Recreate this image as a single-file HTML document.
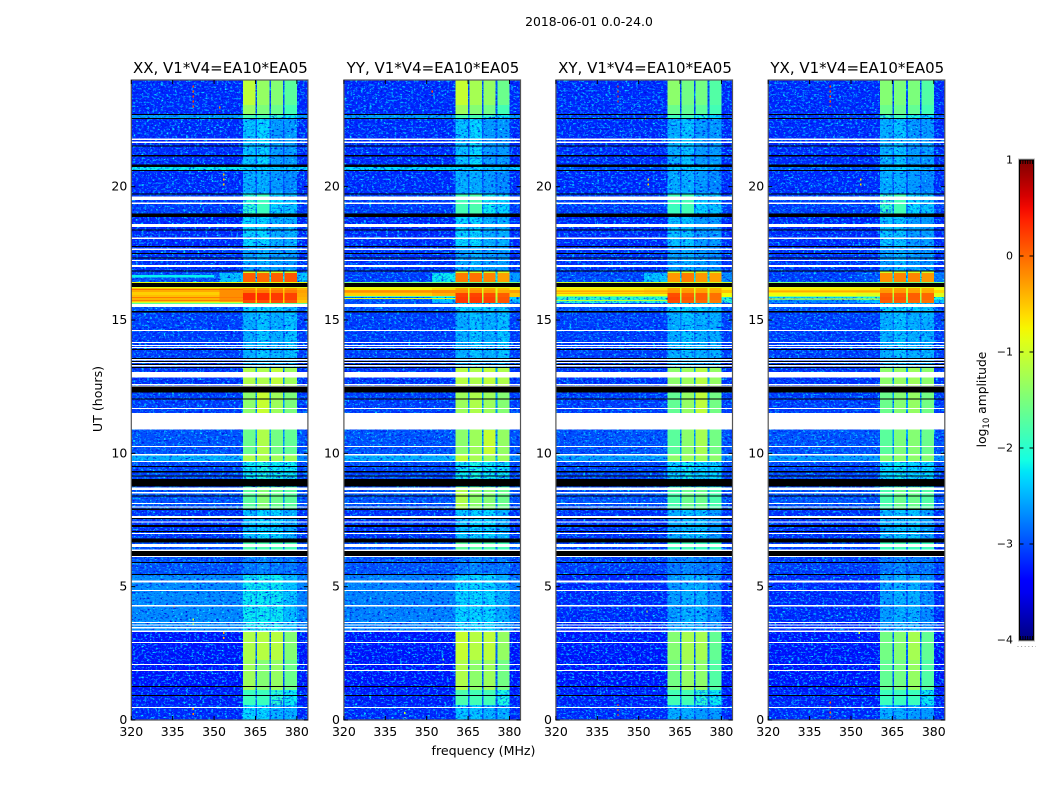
<!DOCTYPE html>
<html lang="en">
<head>
<meta charset="utf-8">
<title>2018-06-01 0.0-24.0 amplitude spectrogram</title>
<style>
html,body{margin:0;padding:0;background:#fff;}
svg{display:block;font-family:"DejaVu Sans","Liberation Sans",sans-serif;fill:#000;}
.tick-label{font-size:12.5px;}
.panel-title{font-size:15px;text-anchor:middle;}
</style>
</head>
<body>
<svg id="figure" width="1050" height="800" viewBox="0 0 1050 800" xmlns="http://www.w3.org/2000/svg">
  <defs>
    <linearGradient id="cbar-gradient" x1="0" y1="1" x2="0" y2="0"></linearGradient>
    <filter id="grain-1" x="0" y="0" width="100%" height="100%" color-interpolation-filters="sRGB">
      <feTurbulence type="fractalNoise" baseFrequency="0.36 0.52" numOctaves="2" seed="3" result="n"/>
      <feColorMatrix in="n" type="matrix" values="0 0 0 0 0  0 0 0 0 .6  0 0 0 0 1  5.5 0 0 0 -3" result="a"/>
      <feColorMatrix in="n" type="matrix" values="0 0 0 0 0  0 0 0 0 .05  0 0 0 0 .88  0 4 0 0 -2.15" result="b"/>
      <feColorMatrix in="n" type="matrix" values="0 0 0 0 .05  0 0 0 0 .95  0 0 0 0 1  0 0 5.5 0 -3.5" result="c"/>
      <feMerge><feMergeNode in="b"/><feMergeNode in="a"/><feMergeNode in="c"/></feMerge>
    </filter>
    <filter id="grain-2" x="0" y="0" width="100%" height="100%" color-interpolation-filters="sRGB">
      <feTurbulence type="fractalNoise" baseFrequency="0.36 0.52" numOctaves="2" seed="11" result="n"/>
      <feColorMatrix in="n" type="matrix" values="0 0 0 0 0  0 0 0 0 .6  0 0 0 0 1  5.5 0 0 0 -3" result="a"/>
      <feColorMatrix in="n" type="matrix" values="0 0 0 0 0  0 0 0 0 .05  0 0 0 0 .88  0 4 0 0 -2.15" result="b"/>
      <feColorMatrix in="n" type="matrix" values="0 0 0 0 .05  0 0 0 0 .95  0 0 0 0 1  0 0 5.5 0 -3.5" result="c"/>
      <feMerge><feMergeNode in="b"/><feMergeNode in="a"/><feMergeNode in="c"/></feMerge>
    </filter>
    <filter id="grain-3" x="0" y="0" width="100%" height="100%" color-interpolation-filters="sRGB">
      <feTurbulence type="fractalNoise" baseFrequency="0.36 0.52" numOctaves="2" seed="23" result="n"/>
      <feColorMatrix in="n" type="matrix" values="0 0 0 0 0  0 0 0 0 .6  0 0 0 0 1  5.5 0 0 0 -3" result="a"/>
      <feColorMatrix in="n" type="matrix" values="0 0 0 0 0  0 0 0 0 .05  0 0 0 0 .88  0 4 0 0 -2.15" result="b"/>
      <feColorMatrix in="n" type="matrix" values="0 0 0 0 .05  0 0 0 0 .95  0 0 0 0 1  0 0 5.5 0 -3.5" result="c"/>
      <feMerge><feMergeNode in="b"/><feMergeNode in="a"/><feMergeNode in="c"/></feMerge>
    </filter>
    <filter id="grain-4" x="0" y="0" width="100%" height="100%" color-interpolation-filters="sRGB">
      <feTurbulence type="fractalNoise" baseFrequency="0.36 0.52" numOctaves="2" seed="37" result="n"/>
      <feColorMatrix in="n" type="matrix" values="0 0 0 0 0  0 0 0 0 .6  0 0 0 0 1  5.5 0 0 0 -3" result="a"/>
      <feColorMatrix in="n" type="matrix" values="0 0 0 0 0  0 0 0 0 .05  0 0 0 0 .88  0 4 0 0 -2.15" result="b"/>
      <feColorMatrix in="n" type="matrix" values="0 0 0 0 .05  0 0 0 0 .95  0 0 0 0 1  0 0 5.5 0 -3.5" result="c"/>
      <feMerge><feMergeNode in="b"/><feMergeNode in="a"/><feMergeNode in="c"/></feMerge>
    </filter>
  </defs>
  <rect x="0" y="0" width="1050" height="800" fill="#fff"/>
  <text x="589" y="26" font-size="12.4px" text-anchor="middle">2018-06-01 0.0-24.0</text>
  <text x="483.5" y="755" font-size="12.6px" text-anchor="middle">frequency (MHz)</text>
  <text transform="translate(102,399) rotate(-90)" font-size="12.6px" text-anchor="middle">UT (hours)</text>
  <text transform="translate(986,399.5) rotate(-90)" font-size="12.3px" text-anchor="middle">log<tspan font-size="8.5px" dy="3">10</tspan><tspan dy="-3"> amplitude</tspan></text>
  <g id="panels"></g>
  <g id="colorbar"></g>
</svg>
<script>
// ---------- data (log10 amplitude, hours, MHz) ----------
const panelNames = ["XX", "YY", "XY", "YX"];
const baselineLabel = ", V1*V4=EA10*EA05";
const xTickValues = [320, 335, 350, 365, 380];
const yTickValues = [0, 5, 10, 15, 20];
const colorbarTickValues = [-4, -3, -2, -1, 0, 1];

// frequency segment edges (MHz) and which column of a level row each segment reads
const freqEdges = [320, 352, 360.5, 365, 365.6, 370, 370.6, 375, 375.6, 380, 384];
const segmentColumn = [0, 1, 2, 6, 3, 6, 4, 6, 5, 7];

// time regime edges (hours)
const hourEdges = [0,.56,1.13,2.25,3.3,5.48,6.15,6.75,7.88,8.74,9.68,9.94,10.88,11.51,12.53,13.2,15.34,15.64,15.75,15.86,16.01,16.13,16.24,16.43,16.76,16.84,17.78,18.9,19.73,20.63,20.74,22.58,22.73,23.06,24];

// one row per time regime: [left bg, near-band bg, sub1, sub2, sub3, sub4, gaps, right bg]
const levelsXX = [
[-3.2,-3.2,-2.3,-2.3,-2.5,-2.5,-3,-3.2],
[-3.25,-3.25,-1.9,-1.9,-2,-2.2,-2.9,-3.25],
[-3.3,-3.3,-1.3,-1.45,-1.35,-1.6,-3,-3.3],
[-3.3,-3.3,-1.2,-1.15,-1.15,-1.45,-2.9,-3.3],
[-2.7,-2.7,-2.2,-2.2,-2.2,-2.4,-2.5,-2.75],
[-3,-3,-2.8,-2.7,-2.8,-2.8,-3,-3],
[-3,-3,-1.8,-1.8,-1.85,-1.85,-2.7,-3],
[-3.15,-3.15,-2.4,-2.3,-2.3,-2.5,-2.8,-3.15],
[-3,-3,-1.7,-1.45,-1.6,-1.7,-2.6,-3],
[-3.05,-3.05,-2.2,-2.1,-2.2,-2.2,-2.7,-3.05],
[-2.5,-2.5,-1.2,-1.2,-1.3,-1.3,-2.4,-2.7],
[-3,-3,-1.6,-1.2,-1.55,-1.65,-2.6,-3],
[-3,-3,-1.6,-1.2,-1.5,-1.6,-2.6,-3],
[-3.1,-3.1,-1.4,-1.05,-1.3,-1.5,-2.6,-3.1],
[-3.15,-3.15,-1.2,-1.2,-1.1,-1.3,-2.6,-3.15],
[-3.1,-3.1,-2.5,-2.4,-2.5,-2.4,-2.8,-3.1],
[-3,-3,-2.3,-2.3,-2.3,-2.4,-2.6,-3],
[-.5,-.3,.15,.15,.15,.1,-.6,-.5],
[-.4,-.2,.3,.3,.25,.2,-.5,-.4],
[-.45,-.2,.3,.3,.25,.2,-.5,-.35],
[-.35,-.2,-.1,-.1,-.1,-.1,-.5,-.3],
[-.45,-.3,-.2,-.2,-.2,-.2,-.6,-.4],
[-.5,-.5,-.3,-.3,-.3,-.3,-.9,-.5],
[-3,-2.4,.05,0,.05,.1,-2.2,-2.4],
[-3.1,-3,-1,-1,-1,-1,-2.6,-3],
[-3.15,-3.15,-2.6,-2.5,-2.6,-2.6,-2.9,-3.15],
[-3.2,-3.2,-2.3,-2.3,-2.5,-2.5,-2.9,-3.2],
[-3.1,-3.1,-2,-1.9,-2.3,-2.4,-2.7,-3.1],
[-3.2,-3.2,-2.5,-2.5,-2.6,-2.7,-3,-3.2],
[-2.2,-2.2,-2.3,-2.3,-2.4,-2.4,-2.4,-2.3],
[-3.2,-3.2,-2.4,-2.3,-2.6,-2.6,-3,-3.2],
[-2.6,-2.6,-1.85,-1.85,-2,-2.2,-2.6,-2.6],
[-3.2,-3.2,-1.35,-1.5,-1.6,-1.85,-3,-3.2],
[-3.2,-3.2,-1.1,-1.35,-1.45,-1.7,-3,-3.2]
];
const levelsYY = [
[-3.2,-3.2,-2.4,-2.4,-2.5,-2.5,-3,-3.2],
[-3.25,-3.25,-1.8,-1.85,-1.85,-2.1,-2.9,-3.25],
[-3.3,-3.3,-1.2,-1.4,-1.3,-1.55,-3,-3.3],
[-3.3,-3.3,-1.05,-1.15,-1.1,-1.35,-2.9,-3.3],
[-2.75,-2.75,-2.3,-2.3,-2.3,-2.5,-2.6,-2.8],
[-3,-3,-2.8,-2.7,-2.8,-2.8,-3,-3],
[-3,-3,-1.7,-1.75,-1.8,-1.85,-2.7,-3],
[-3.15,-3.15,-2.4,-2.3,-2.3,-2.5,-2.8,-3.15],
[-3,-3,-1.2,-1.4,-1.45,-1.6,-2.6,-3],
[-3.05,-3.05,-2.2,-2.1,-2.2,-2.2,-2.7,-3.05],
[-2.5,-2.5,-1.1,-1.25,-1.3,-1.3,-2.4,-2.7],
[-3,-3,-1.4,-1.3,-1.05,-1.35,-2.6,-3],
[-3,-3,-1.6,-1.35,-1.4,-1.6,-2.6,-3],
[-3.1,-3.1,-1.3,-1.2,-1.3,-1.45,-2.6,-3.1],
[-3.15,-3.15,-1.15,-1.2,-1.1,-1.2,-2.6,-3.15],
[-3.1,-3.1,-2.5,-2.4,-2.5,-2.4,-2.8,-3.1],
[-3,-3,-2.3,-2.3,-2.3,-2.4,-2.6,-3],
[-3,-2.4,.25,.25,.2,.1,-1.4,-2.4],
[-2.9,-2.3,.25,.25,.2,.1,-1.2,-2.3],
[-.55,-.4,.2,.2,.15,.05,-1,-.5],
[-.3,-.2,-.2,-.2,-.25,-.35,-.9,-.3],
[-.75,-.6,-.3,-.3,-.35,-.45,-.9,-.7],
[-.8,-.6,-.3,-.3,-.35,-.45,-.9,-.7],
[-3.1,-2.2,-.1,-.05,-.15,-.3,-2.2,-2.6],
[-3.1,-3,-1,-1,-1,-1,-2.6,-3],
[-3.15,-3.15,-2.6,-2.5,-2.6,-2.6,-2.9,-3.15],
[-3.2,-3.2,-2.3,-2.3,-2.5,-2.5,-2.9,-3.2],
[-3.1,-3.1,-1.85,-1.8,-2.2,-2.3,-2.7,-3.1],
[-3.2,-3.2,-2.5,-2.5,-2.6,-2.7,-3,-3.2],
[-2.3,-2.3,-2.3,-2.3,-2.4,-2.4,-2.4,-2.3],
[-3.2,-3.2,-2.4,-2.3,-2.6,-2.6,-3,-3.2],
[-2.6,-2.6,-1.85,-1.85,-2,-2.2,-2.6,-2.6],
[-3.2,-3.2,-1.3,-1.45,-1.55,-1.85,-3,-3.2],
[-3.2,-3.2,-1.05,-1.25,-1.35,-1.6,-3,-3.2]
];
const levelsXY = [
[-3.2,-3.2,-2.5,-2.5,-2.6,-2.6,-3,-3.2],
[-3.25,-3.25,-1.85,-1.85,-2,-2.2,-2.9,-3.25],
[-3.3,-3.3,-1.55,-1.35,-1.4,-1.75,-3,-3.3],
[-3.3,-3.3,-1.45,-1.25,-1.25,-1.65,-2.9,-3.3],
[-3.2,-3.2,-2.6,-2.5,-2.5,-2.7,-2.9,-3.2],
[-3.1,-3.1,-2.8,-2.7,-2.8,-2.8,-3,-3.1],
[-3.1,-3.1,-1.9,-1.85,-1.9,-1.9,-2.7,-3.1],
[-3.15,-3.15,-2.5,-2.4,-2.4,-2.6,-2.8,-3.15],
[-3,-3,-1.8,-1.6,-1.6,-1.8,-2.6,-3],
[-3.05,-3.05,-2.3,-2.2,-2.3,-2.3,-2.7,-3.05],
[-2.6,-2.6,-1.4,-1.3,-1.3,-1.4,-2.5,-2.7],
[-3,-3,-1.7,-1.4,-1.25,-1.55,-2.6,-3],
[-3,-3,-1.7,-1.4,-1.1,-1.6,-2.6,-3],
[-3.1,-3.1,-1.65,-1.35,-1.1,-1.55,-2.6,-3.1],
[-3.15,-3.15,-1.4,-1.3,-1.15,-1.35,-2.6,-3.15],
[-3.1,-3.1,-2.5,-2.4,-2.5,-2.5,-2.8,-3.1],
[-3,-3,-2.3,-2.3,-2.3,-2.4,-2.6,-3],
[-2,-2,.15,.05,0,-.1,-1.6,-2],
[-2,-2,.2,.1,.05,-.05,-1.3,-2],
[-.8,-.8,.15,.05,.05,-.05,-1.1,-.8],
[-.6,-.5,-.25,-.25,-.3,-.35,-.9,-.5],
[-.7,-.6,-.3,-.3,-.35,-.4,-.9,-.7],
[-.85,-.7,-.3,-.3,-.35,-.4,-.9,-.7],
[-3.05,-2.4,-.25,-.1,-.25,-.3,-2.2,-2.7],
[-3.1,-3,-1,-1,-1,-1,-2.6,-3],
[-3.15,-3.15,-2.6,-2.5,-2.6,-2.7,-2.9,-3.15],
[-3.2,-3.2,-2.4,-2.4,-2.6,-2.6,-2.9,-3.2],
[-3.1,-3.1,-1.9,-1.85,-2.3,-2.4,-2.7,-3.1],
[-3.2,-3.2,-2.5,-2.5,-2.6,-2.7,-3,-3.2],
[-3,-3,-2.4,-2.3,-2.4,-2.5,-2.6,-3],
[-3.2,-3.2,-2.5,-2.4,-2.6,-2.6,-3,-3.2],
[-3.1,-3.1,-1.9,-1.9,-2.1,-2.3,-2.7,-3.1],
[-3.2,-3.2,-1.6,-1.65,-1.7,-1.85,-3,-3.2],
[-3.2,-3.2,-1.4,-1.55,-1.55,-1.75,-3,-3.2]
];
const levelsYX = [
[-3.2,-3.2,-2.5,-2.5,-2.6,-2.6,-3,-3.2],
[-3.25,-3.25,-1.9,-1.9,-1.9,-2.2,-2.9,-3.25],
[-3.3,-3.3,-1.65,-1.55,-1.35,-1.75,-3,-3.3],
[-3.3,-3.3,-1.55,-1.45,-1.25,-1.65,-2.9,-3.3],
[-3.2,-3.2,-2.6,-2.5,-2.5,-2.7,-2.9,-3.2],
[-3.1,-3.1,-2.8,-2.7,-2.8,-2.8,-3,-3.1],
[-3.1,-3.1,-1.9,-1.85,-1.9,-1.9,-2.7,-3.1],
[-3.15,-3.15,-2.5,-2.4,-2.4,-2.6,-2.8,-3.15],
[-3,-3,-1.8,-1.6,-1.6,-1.75,-2.6,-3],
[-3.05,-3.05,-2.3,-2.2,-2.3,-2.3,-2.7,-3.05],
[-2.6,-2.6,-1.45,-1.4,-1.4,-1.45,-2.5,-2.7],
[-3,-3,-1.7,-1.5,-1.45,-1.6,-2.6,-3],
[-3,-3,-1.7,-1.5,-1.4,-1.6,-2.6,-3],
[-3.1,-3.1,-1.6,-1.45,-1.35,-1.55,-2.6,-3.1],
[-3.15,-3.15,-1.4,-1.35,-1.3,-1.4,-2.6,-3.15],
[-3.1,-3.1,-2.5,-2.4,-2.5,-2.5,-2.8,-3.1],
[-3,-3,-2.3,-2.3,-2.3,-2.4,-2.6,-3],
[-2.7,-2.4,.05,.05,0,-.05,-1.6,-2.4],
[-2.3,-2.1,.1,.1,.05,0,-1.3,-2.1],
[-.8,-.9,.05,.05,.05,0,-1.1,-.9],
[-.6,-.55,-.25,-.25,-.3,-.35,-.9,-.6],
[-.7,-.7,-.3,-.3,-.35,-.4,-.9,-.8],
[-.85,-.8,-.3,-.3,-.35,-.4,-.9,-.8],
[-3.1,-3,-.2,-.15,-.15,-.25,-2.2,-2.8],
[-3.1,-3,-1,-1,-1,-1,-2.6,-3],
[-3.15,-3.15,-2.6,-2.5,-2.6,-2.7,-2.9,-3.15],
[-3.2,-3.2,-2.4,-2.4,-2.6,-2.6,-2.9,-3.2],
[-3.1,-3.1,-1.95,-1.85,-2.3,-2.4,-2.7,-3.1],
[-3.2,-3.2,-2.5,-2.5,-2.6,-2.7,-3,-3.2],
[-3,-3,-2.4,-2.3,-2.4,-2.5,-2.6,-3],
[-3.2,-3.2,-2.5,-2.4,-2.6,-2.6,-3,-3.2],
[-3.1,-3.1,-1.95,-1.9,-2.1,-2.3,-2.7,-3.1],
[-3.2,-3.2,-1.6,-1.6,-1.65,-1.85,-3,-3.2],
[-3.2,-3.2,-1.45,-1.5,-1.5,-1.75,-3,-3.2]
];
const levelTables = [levelsXX, levelsYY, levelsXY, levelsYX];

// thin stripes in the 15.6-16.7 h burst: [start hour, end hour, log10 amplitude, start MHz, end MHz]
const stripesXX = [[16.39,16.43,-.85,320,384],[16.2,16.24,-.9,320,384],[16.13,16.16,-.05,320,360.5],[15.94,16.05,-.55,320,352],[15.83,15.86,-.1,320,360.5],[15.71,15.75,-.1,320,360.5],[15.64,15.68,-1,320,360.5],[15.6,15.64,-1.7,320,384],[16.59,16.69,-2.2,320,350]];
const stripesYY = [[16.39,16.43,-1.5,320,384],[16.2,16.24,-.9,320,384],[15.86,15.9,-1.8,320,360.5],[15.79,15.83,-.9,320,360.5],[16.05,16.1,-.2,320,360.5]];
const stripesXY = [[16.39,16.43,-1,320,384],[16.2,16.24,-.9,320,384],[15.86,15.9,-1.6,320,360.5],[15.71,15.75,-1.1,320,360.5],[16.05,16.1,-.35,320,360.5],[15.98,16.01,-.4,320,360.5]];
const stripesYX = [[16.39,16.43,-1.5,320,384],[16.2,16.24,-.9,320,384],[15.86,15.9,-1.4,320,360.5],[15.77,15.8,-.9,320,360.5],[16.05,16.1,-.35,320,360.5]];
const stripeTables = [stripesXX, stripesYY, stripesXY, stripesYX];

// flagged intervals (hours): white = no data, black = zero amplitude
const whiteFlagHours = [[21.75,21.80],[21.64,21.69],[19.50,19.63],[19.35,19.40],[18.48,18.60],[18.03,18.10],[17.63,17.68],[17.21,17.25],[16.98,17.06],[15.49,15.60],[14.59,14.63],[14.14,14.18],[14.03,14.06],[13.95,13.99],[13.49,13.53],[13.38,13.42],[13.26,13.31],[12.84,13.05],[12.56,12.60],[12.51,12.54],[11.66,11.70],[10.89,11.51],[10.24,10.28],[9.91,9.98],[9.67,9.71],[8.63,8.71],[8.50,8.55],[8.10,8.14],[7.97,8.01],[7.58,7.65],[7.41,7.44],[6.98,7.01],[6.48,6.60],[6.34,6.40],[6.11,6.15],[5.16,5.23],[4.84,4.88],[4.25,4.31],[3.63,3.67],[3.54,3.58],[3.44,3.49],[3.30,3.36],[2.89,2.93],[2.06,2.10],[1.84,1.88],[.45,.495]];
const blackFlagHours = [[22.69,22.73],[22.54,22.58],[21.51,21.55],[21.14,21.18],[20.73,20.84],[20.58,20.62],[19.71,19.74],[18.87,19.0],[18.36,18.39],[17.74,17.78],[17.48,17.52],[17.31,17.34],[16.82,16.86],[16.24,16.39],[15.29,15.33],[13.88,13.91],[13.54,13.58],[13.43,13.46],[13.31,13.35],[13.20,13.24],[12.29,12.50],[12.02,12.06],[9.48,9.52],[9.29,9.33],[9.13,9.17],[8.75,9.03],[8.38,8.42],[7.88,7.93],[7.54,7.58],[7.24,7.31],[7.05,7.09],[6.65,6.80],[6.15,6.34],[5.89,5.93],[5.44,5.48],[1.24,1.28],[.90,.94]];

// isolated interference spikes per panel: [MHz, start hour, end hour, log10 amplitude]
const spikesXX = [[342.5,.1,.45,-.2],[342.5,3.5,3.8,-1],[335.5,4.1,4.3,0],[353.5,3.0,3.3,-.4],[353.5,20,20.5,-.5],[342.5,22.9,23.8,.2],[352,22.8,23,0]];
const spikesYY = [[352,23.4,23.6,.1],[342,.1,.3,-1],[356,2,2.3,-1.5]];
const spikesXY = [[342.5,.1,.6,.2],[342.5,23.1,23.8,.3],[352.5,22.4,22.6,-.4],[353,3.9,4.1,-1],[353.5,20,20.3,-.6]];
const spikesYX = [[342.5,.1,.7,.1],[342.5,23,23.8,.2],[350,22.4,22.6,-.6],[353,3.1,3.3,-1],[353.5,20,20.3,-.6]];
const spikeTables = [spikesXX, spikesYY, spikesXY, spikesYX];

// ---------- axes ----------
const SVG_NS = "http://www.w3.org/2000/svg";
const panelLeft = [131.3, 343.9, 555.9, 768.2];
const panelWidth = 176.6;
const panelTop = 80;
const panelHeight = 640;
const freqMin = 320, freqMax = 384, hourMin = 0, hourMax = 24;
const cbarLeft = 1019.5, cbarRight = 1033.5, cbarTop = 160, cbarBottom = 640, cbarMin = -4, cbarMax = 1;

function xScale(panel, mhz) { return panelLeft[panel] + (mhz - freqMin) / (freqMax - freqMin) * panelWidth; }
function yScale(hour) { return panelTop + panelHeight - (hour - hourMin) / (hourMax - hourMin) * panelHeight; }
function cbarScale(v) { return cbarBottom - (v - cbarMin) / (cbarMax - cbarMin) * (cbarBottom - cbarTop); }

function lerpStops(stops, t) {
  for (let i = 1; i < stops.length; i++) {
    if (t <= stops[i][0]) {
      const a = stops[i - 1], b = stops[i];
      return a[1] + (b[1] - a[1]) * (t - a[0]) / (b[0] - a[0]);
    }
  }
  return stops[stops.length - 1][1];
}
const jetRed = [[0,0],[.35,0],[.66,1],[.89,1],[1,.5]];
const jetGreen = [[0,0],[.125,0],[.375,1],[.64,1],[.91,0],[1,0]];
const jetBlue = [[0,.5],[.11,1],[.34,1],[.65,0],[1,0]];
function jetColor(t) {
  t = Math.max(0, Math.min(1, t));
  const c = v => Math.round(lerpStops(v, t) * 255);
  return "rgb(" + c(jetRed) + "," + c(jetGreen) + "," + c(jetBlue) + ")";
}
function levelColor(v) { return jetColor((v - cbarMin) / (cbarMax - cbarMin)); }

function make(tag, parent, attrs) {
  const el = document.createElementNS(SVG_NS, tag);
  for (const k in attrs) el.setAttribute(k, attrs[k]);
  parent.appendChild(el);
  return el;
}

// ---------- panels ----------
const panelsRoot = document.getElementById("panels");
const SMOOTH_ABOVE = -1.95;

panelNames.forEach(function (pol, p) {
  const g = make("g", panelsRoot, {});
  
  

  const heat = make("g", g, { "shape-rendering": "crispEdges" });
  
  

  const table = levelTables[p];
  const drawCells = function (smoothPass) {
    table.forEach(function (row, r) {
      const y0 = yScale(hourEdges[r + 1]), y1 = yScale(hourEdges[r]);
      segmentColumn.forEach(function (col, s) {
        const v = row[col];
        if ((v > SMOOTH_ABOVE) !== smoothPass) return;
        const x0 = xScale(p, freqEdges[s]), x1 = xScale(p, freqEdges[s + 1]);
        const cell = make("rect", heat, { x: x0, y: y0, width: x1 - x0, height: y1 - y0, fill: levelColor(v) });
        
        
      });
    });
  };
  drawCells(false);

  const grain = make("rect", heat, {
    x: panelLeft[p], y: panelTop, width: panelWidth, height: panelHeight,
    fill: "#fff", filter: "url(#grain-" + (p + 1) + ")"
  });
  
  

  drawCells(true);

  stripeTables[p].forEach(function (st) {
    const stripe = make("rect", heat, {
      x: xScale(p, st[3]), y: yScale(st[1]),
      width: xScale(p, st[4]) - xScale(p, st[3]),
      height: yScale(st[0]) - yScale(st[1]), fill: levelColor(st[2])
    });
    
    
  });

  spikeTables[p].forEach(function (sp) {
    const spike = make("line", heat, {
      x1: xScale(p, sp[0]), x2: xScale(p, sp[0]), y1: yScale(sp[2]), y2: yScale(sp[1]),
      stroke: levelColor(sp[3]), "stroke-width": 1.3, "stroke-dasharray": "2 3"
    });
    
    
  });

  whiteFlagHours.forEach(function (f) {
    const band = make("rect", heat, {
      x: panelLeft[p], y: yScale(f[1]), width: panelWidth, height: yScale(f[0]) - yScale(f[1]), fill: "#fff"
    });
    
    
  });
  blackFlagHours.forEach(function (f) {
    const band = make("rect", heat, {
      x: panelLeft[p], y: yScale(f[1]), width: panelWidth, height: yScale(f[0]) - yScale(f[1]), fill: "#000"
    });
    
    
  });

  const frame = make("rect", g, {
    x: panelLeft[p], y: panelTop, width: panelWidth, height: panelHeight,
    fill: "none", stroke: "#555", "stroke-width": 1.2
  });
  
  

  xTickValues.forEach(function (mhz) {
    const x = xScale(p, mhz);
    const bottom = make("line", g, { x1: x, x2: x, y1: panelTop + panelHeight, y2: panelTop + panelHeight - 4, stroke: "#000" });
    
    
    const top = make("line", g, { x1: x, x2: x, y1: panelTop, y2: panelTop + 4, stroke: "#000" });
    
    
    const label = make("text", g, { x: x, y: panelTop + panelHeight + 16, "text-anchor": "middle", class: "tick-label" });
    label.textContent = String(mhz);
    
    
  });

  yTickValues.forEach(function (hour) {
    const y = yScale(hour);
    const left = make("line", g, { x1: panelLeft[p], x2: panelLeft[p] + 4, y1: y, y2: y, stroke: "#000" });
    
    
    const right = make("line", g, { x1: panelLeft[p] + panelWidth, x2: panelLeft[p] + panelWidth - 4, y1: y, y2: y, stroke: "#000" });
    
    
    const label = make("text", g, { x: panelLeft[p] - 4, y: y + 4, "text-anchor": "end", class: "tick-label" });
    label.textContent = String(hour);
    
    
  });

  const title = make("text", g, { x: panelLeft[p] + panelWidth / 2 + 0.8, y: 73, class: "panel-title" });
  title.textContent = pol + baselineLabel;
  
  
});

// ---------- colorbar ----------
const cbar = document.getElementById("colorbar");
const gradient = document.getElementById("cbar-gradient");
for (let i = 0; i <= 40; i++) {
  make("stop", gradient, { offset: (i / 40), "stop-color": jetColor(i / 40) });
}
const cbarOuter = make("rect", cbar, {
  x: cbarLeft - 1, y: cbarTop - 1, width: cbarRight - cbarLeft + 2, height: cbarBottom - cbarTop + 2, fill: "none", stroke: "#bbb"
});


const cbarFill = make("rect", cbar, {
  x: cbarLeft, y: cbarTop, width: cbarRight - cbarLeft, height: cbarBottom - cbarTop, fill: "url(#cbar-gradient)", stroke: "#000"
});



colorbarTickValues.forEach(function (v) {
  const y = cbarScale(v);
  const left = make("line", cbar, { x1: cbarLeft, x2: cbarLeft + 4, y1: y, y2: y, stroke: "#000" });
  
  
  const right = make("line", cbar, { x1: cbarRight, x2: cbarRight - 4, y1: y, y2: y, stroke: "#000" });
  
  
  const label = make("text", cbar, { x: 1013, y: y + 3.5, "text-anchor": "end", "font-size": "11px" });
  label.textContent = (v < 0 ? "\u2212" : "") + Math.abs(v);
  
  
});

[0, 1, 2, 3, 4, 5].forEach(function (i) {
  const x = cbarLeft + 1 + i * (cbarRight - cbarLeft - 2) / 5;
  const top = make("line", cbar, { x1: x, x2: x, y1: cbarTop, y2: cbarTop + 4, stroke: "#000" });
  
  
  const bottom = make("line", cbar, { x1: x, x2: x, y1: cbarBottom, y2: cbarBottom - 4, stroke: "#000" });
  
  
});
const cbarDots = make("line", cbar, {
  x1: 1017.5, x2: 1036, y1: 646.5, y2: 646.5, stroke: "#999", "stroke-dasharray": "1 2.6"
});


</script>
</body>
</html>
